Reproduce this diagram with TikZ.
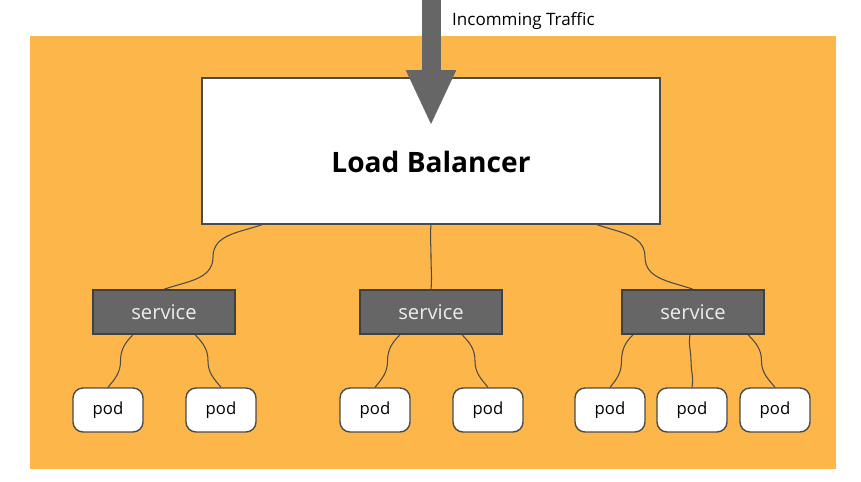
\documentclass[tikz,border=0pt]{standalone}
\usepackage{fontspec}
\setsansfont{Open Sans}
\usetikzlibrary{arrows.meta,calc}
\definecolor{bgorange}{HTML}{FDB64A}
\definecolor{svcgray}{HTML}{666666}
\definecolor{edgegray}{HTML}{4A4A4A}
\tikzset{% styles for the boxes and wires
    lb/.style={rectangle, draw=edgegray, fill=white, line width=0.7pt,
        minimum width=9.16cm, minimum height=2.92cm,
        text height=0.84cm, text depth=0pt,
        font=\sffamily\bfseries\fontsize{16}{19}\selectfont},
    svc/.style={rectangle, draw=black!75, fill=svcgray, line width=0.8pt,
        minimum width=2.84cm, minimum height=0.88cm, text=black!7,
        font=\sffamily\fontsize{11.5}{13}\selectfont},
    pod/.style={rectangle, rounded corners=0.2cm, draw=edgegray, fill=white,
        line width=0.8pt, minimum width=1.4cm, minimum height=0.88cm,
        font=\sffamily\fontsize{9.5}{11}\selectfont},
    e/.style={draw=edgegray, line width=0.6pt}}
% S-shaped wire: from, to, out angle, in angle
\newcommand{\wire}[4]{\draw[e] (#1) to[out=#3, in=90] ($(#1)!0.5!(#2)$)
    to[out=-90, in=#4] (#2);}

\begin{document}
\begin{tikzpicture}[x=0.02cm, y=-0.02cm]
    \useasboundingbox (0,0) rectangle (861,481);
    \fill[bgorange] (30,36) rectangle (836,469);

    \node[lb] (lb) at (431,151) {Load Balancer};

    \node[svc] (s1) at (164,312) {service};
    \node[svc] (s2) at (431,312) {service};
    \node[svc] (s3) at (693,312) {service};

    \node[pod] (p1) at (108,410) {pod};
    \node[pod] (p2) at (221,410) {pod};
    \node[pod] (p3) at (375,410) {pod};
    \node[pod] (p4) at (488,410) {pod};
    \node[pod] (p5) at (610,410) {pod};
    \node[pod] (p6) at (692,410) {pod};
    \node[pod] (p7) at (775,410) {pod};

    % incoming traffic arrow
    \coordinate (in) at (431,0);
    \coordinate (tip) at (431,126);
    \draw[svcgray, line width=0.38cm, -{Triangle[width=0.92cm, length=1.12cm]}]
        (in) -- (tip);
    \node[anchor=west, font=\sffamily\fontsize{9.7}{12}\selectfont] (traffic)
        at (446,21) {Incomming Traffic};

    % load balancer to services
    \wire{[xshift=-3.38cm]lb.south}{s1.north}{-160}{20}
    \wire{lb.south}{s2.north}{-95}{85}
    \wire{[xshift=3.32cm]lb.south}{s3.north}{-20}{160}

    % services to pods
    \wire{[xshift=-0.62cm]s1.south}{p1.north}{-135}{50}
    \wire{[xshift=0.62cm]s1.south}{p2.north}{-45}{130}
    \wire{[xshift=-0.62cm]s2.south}{p3.north}{-135}{50}
    \wire{[xshift=0.62cm]s2.south}{p4.north}{-45}{130}
    \wire{[xshift=-1.2cm]s3.south}{p5.north}{-135}{50}
    \wire{[xshift=-0.06cm]s3.south}{p6.north}{-100}{80}
    \wire{[xshift=1.1cm]s3.south}{p7.north}{-45}{130}
\end{tikzpicture}
\end{document}
